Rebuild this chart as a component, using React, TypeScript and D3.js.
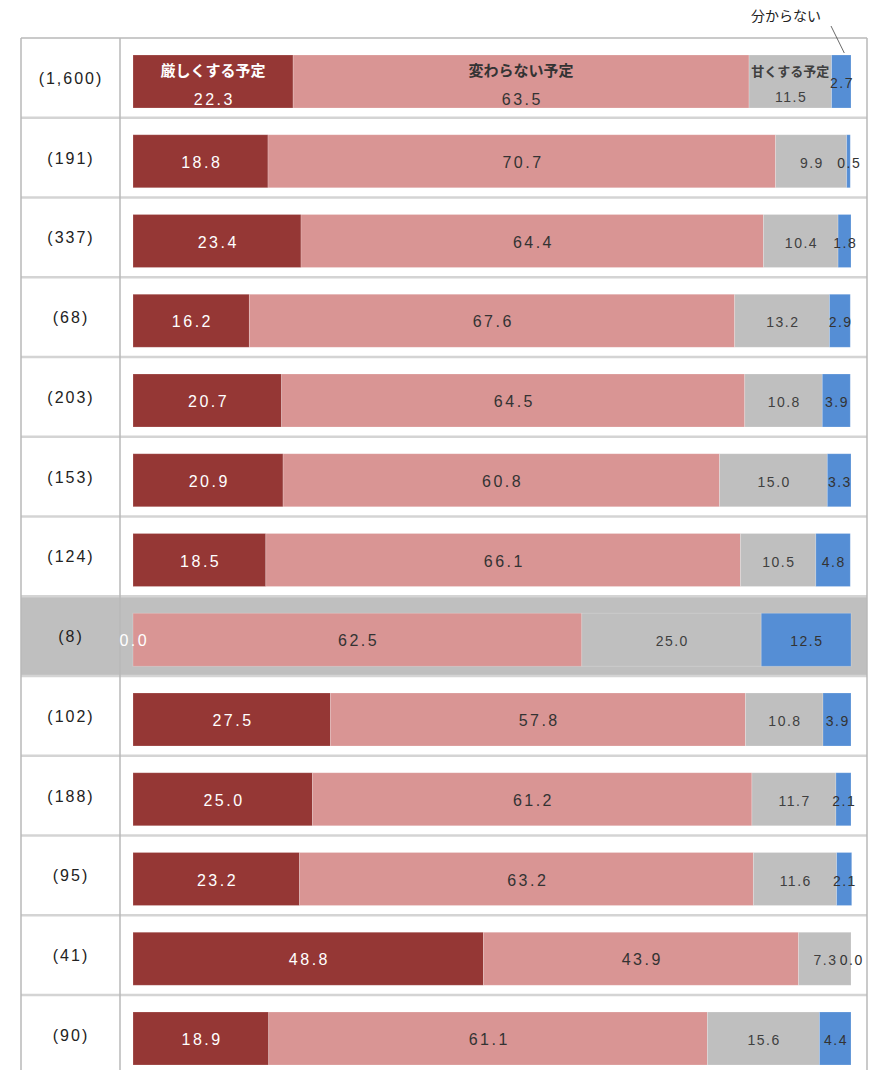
import React from "react";
import * as d3 from "d3";

const rowCounts = ["(1,600)", "(191)", "(337)", "(68)", "(203)", "(153)", "(124)", "(8)", "(102)", "(188)", "(95)", "(41)", "(90)"];
const seriesNames = ["厳しくする予定", "変わらない予定", "甘くする予定", "分からない"];
const strict = [22.3, 18.8, 23.4, 16.2, 20.7, 20.9, 18.5, 0.0, 27.5, 25.0, 23.2, 48.8, 18.9];
const unchanged = [63.5, 70.7, 64.4, 67.6, 64.5, 60.8, 66.1, 62.5, 57.8, 61.2, 63.2, 43.9, 61.1];
const lenient = [11.5, 9.9, 10.4, 13.2, 10.8, 15.0, 10.5, 25.0, 10.8, 11.7, 11.6, 7.3, 15.6];
const unknown = [2.7, 0.5, 1.8, 2.9, 3.9, 3.3, 4.8, 12.5, 3.9, 2.1, 2.1, 0.0, 4.4];
const highlightRow = 7;

const colors = ["#953735", "#d99594", "#bfbfbf", "#558ed5"];
const labelColors = ["#ffffff", "#333333", "#404040", "#333333"];
const labelSizes = [16, 16, 14, 14];
const labelSpacing = [2.5, 2.5, 1.5, 1.5];

const W = 877, H = 1070;
const left = 21, sep = 120, right = 867, top = 38;
const rowH = 79.75;
const barX0 = 133, barX1 = 851;
const barOff = 17, barH = 53;

export default function App() {
  const x = d3.scaleLinear().domain([0, 100]).range([barX0, barX1]);
  const y = d3.scaleBand<number>().domain(d3.range(rowCounts.length)).range([top, top + rowH * rowCounts.length]).paddingInner(0).paddingOuter(0);
  const series = [strict, unchanged, lenient, unknown];
  const font = "'Liberation Sans', Arial, sans-serif";
  const jfont = "'Noto Sans CJK JP', sans-serif";

  return (
    <svg width={W} height={H} style={{ position: "absolute", left: 0, top: 0, background: "#fff" }}>
      <rect x={left} y={y(highlightRow)!} width={right - left} height={rowH} fill="#bfbfbf" />
      {d3.range(rowCounts.length + 1).map((i) => (
        <line key={"h" + i} x1={left} x2={right} y1={top + i * rowH} y2={top + i * rowH}
          stroke={i === 0 ? "#b8b8b8" : "#d4d4d4"} strokeWidth={i === 0 ? 1.5 : 2.5} />
      ))}
      {[left, sep, right].map((vx, i) => (
        <line key={"v" + i} x1={vx} x2={vx} y1={top} y2={H} stroke="#b8b8b8" strokeWidth={1.5} />
      ))}
      {rowCounts.map((lbl, r) => {
        const ry = y(r)!;
        let cum = 0;
        const segs = series.map((s, k) => {
          const v = s[r];
          const x0 = x(cum);
          cum += v;
          const x1 = x(cum);
          return { k, v, x0, x1 };
        });
        const baseY = ry + barOff + barH / 2 + 6.5;
        const labelY = (k: number) => {
          if (r !== 0) return baseY;
          if (k === 3) return baseY;
          if (k === 2) return ry + barOff + 47;
          return ry + barOff + 50;
        };
        return (
          <g key={r}>
            <text x={71} y={ry + rowH / 2 + 6} textAnchor="middle" fontFamily={font} fontSize={16} letterSpacing={2} fill="#222">{lbl}</text>
            {segs.map((s) => (
              <rect key={s.k} x={s.x0} y={ry + barOff} width={Math.max(0, s.x1 - s.x0)} height={barH} fill={colors[s.k]} stroke="#ffffff" strokeOpacity={0.25} strokeWidth={0.8} />
            ))}
            {segs.map((s) => (
              <text key={"t" + s.k} x={(s.x0 + s.x1) / 2 + labelSpacing[s.k] / 2} y={labelY(s.k)} textAnchor="middle" fontFamily={font}
                fontSize={labelSizes[s.k]} letterSpacing={labelSpacing[s.k]} fill={labelColors[s.k]}>{s.v.toFixed(1)}</text>
            ))}
            {r === 0 && (
              <g>
                <text x={(segs[0].x0 + segs[0].x1) / 2} y={ry + barOff + 21} textAnchor="middle" fontFamily={jfont} fontWeight="bold" fontSize={15} fill="#ffffff">{seriesNames[0]}</text>
                <text x={(segs[1].x0 + segs[1].x1) / 2} y={ry + barOff + 21} textAnchor="middle" fontFamily={jfont} fontWeight="bold" fontSize={15} fill="#333333">{seriesNames[1]}</text>
                <text x={(segs[2].x0 + segs[2].x1) / 2} y={ry + barOff + 21} textAnchor="middle" fontFamily={jfont} fontWeight="bold" fontSize={13} fill="#404040">{seriesNames[2]}</text>
                <text x={786} y={21} textAnchor="middle" fontFamily={jfont} fontSize={14} fill="#222">{seriesNames[3]}</text>
                <line x1={831} y1={26} x2={(segs[3].x0 + segs[3].x1) / 2 + 3} y2={ry + barOff - 2} stroke="#444" strokeWidth={0.8} />
              </g>
            )}
          </g>
        );
      })}
    </svg>
  );
}
